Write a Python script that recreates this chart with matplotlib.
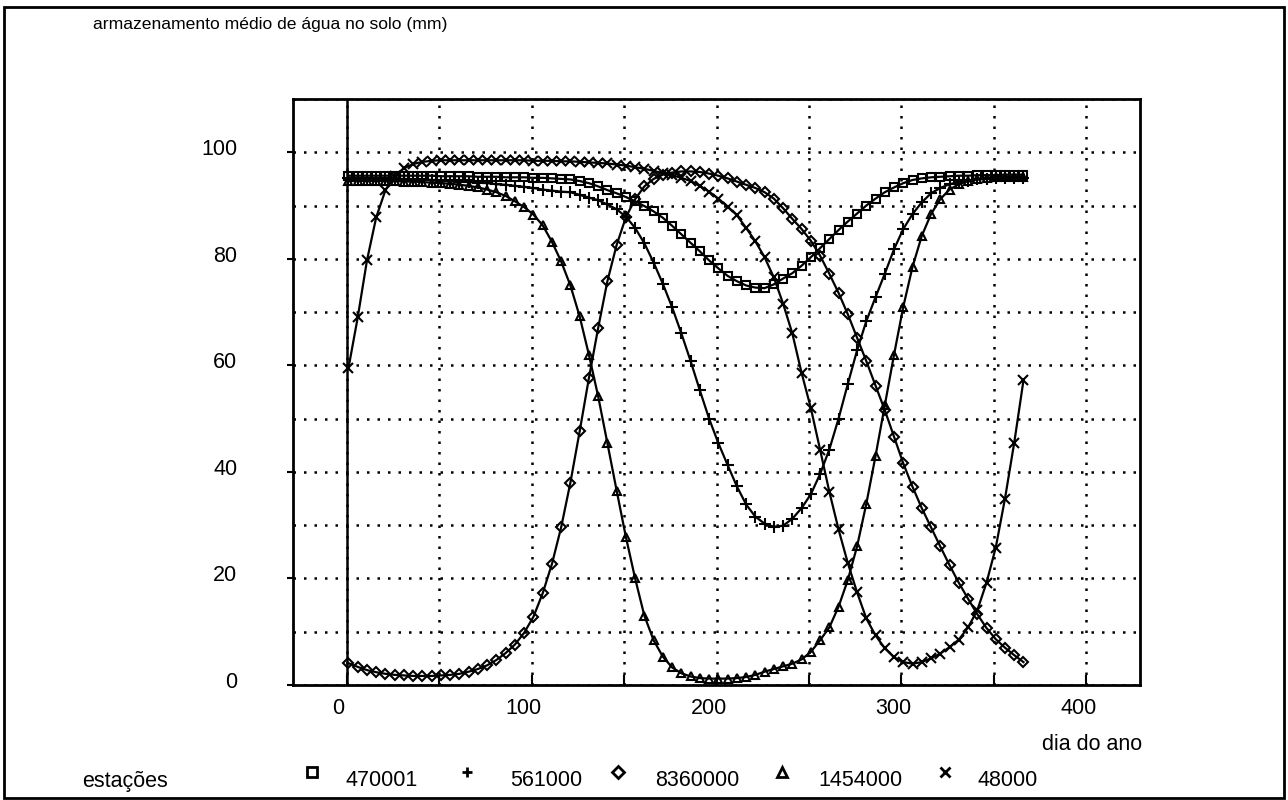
import numpy as np
import matplotlib.pyplot as plt
import matplotlib.transforms as mtransforms
from matplotlib.lines import Line2D
from matplotlib.patches import Rectangle

plt.rcParams['font.family'] = ['Liberation Sans', 'DejaVu Sans']

# day of year, one reading every 5 days
DAYS = np.arange(1, 367, 5)

# mean soil water storage (mm) per station
ST_470001 = [
    95.6, 95.6, 95.6, 95.6, 95.6, 95.6, 95.6, 95.6, 95.6, 95.6,
    95.5, 95.5, 95.5, 95.5, 95.4, 95.4, 95.4, 95.3, 95.3, 95.3,
    95.2, 95.2, 95.1, 95.0, 94.9, 94.6, 94.2, 93.6, 92.9, 92.3,
    91.6, 90.8, 89.9, 88.9, 87.7, 86.2, 84.6, 83.0, 81.4, 79.7,
    78.2, 76.8, 75.8, 75.0, 74.6, 74.5, 75.2, 76.3, 77.3, 78.7,
    80.3, 82.0, 83.7, 85.4, 87.0, 88.5, 90.0, 91.3, 92.5, 93.4,
    94.2, 94.8, 95.1, 95.3, 95.4, 95.5, 95.6, 95.6, 95.7, 95.7,
    95.7, 95.8, 95.8, 95.8,
]
ST_561000 = [
    95.2, 95.2, 95.2, 95.1, 95.1, 95.0, 95.0, 94.9, 94.9, 94.8,
    94.7, 94.6, 94.5, 94.4, 94.3, 94.2, 94.0, 93.9, 93.7, 93.5,
    93.3, 93.0, 92.8, 92.6, 92.5, 92.0, 91.5, 91.0, 90.2, 89.3,
    87.9, 85.8, 82.9, 79.3, 75.3, 70.9, 66.0, 60.8, 55.3, 50.0,
    45.4, 41.3, 37.3, 33.9, 31.6, 30.3, 29.7, 29.9, 31.2, 33.2,
    35.8, 39.6, 44.2, 50.0, 56.5, 62.8, 68.3, 72.8, 77.2, 81.8,
    85.6, 88.4, 90.6, 92.3, 93.3, 94.0, 94.4, 94.7, 94.9, 95.0,
    95.1, 95.1, 95.2, 95.2,
]
ST_8360000 = [
    4.1, 3.4, 2.8, 2.4, 2.1, 1.9, 1.8, 1.7, 1.7, 1.7,
    1.8, 1.9, 2.1, 2.5, 3.0, 3.7, 4.7, 6.0, 7.6, 9.8,
    12.8, 17.2, 22.7, 29.6, 38.0, 47.6, 57.6, 67.0, 75.8, 82.6,
    87.8, 91.2, 93.6, 95.0, 95.8, 96.2, 96.4, 96.4, 96.3, 96.0,
    95.6, 95.1, 94.5, 93.9, 93.3, 92.5, 91.3, 89.5, 87.5, 85.6,
    83.4, 80.6, 77.2, 73.6, 69.6, 65.2, 60.8, 56.2, 51.6, 46.6,
    41.6, 37.2, 33.2, 29.6, 26.0, 22.5, 19.2, 16.2, 13.3, 10.7,
    8.6, 7.0, 5.6, 4.3,
]
ST_1454000 = [
    94.6, 94.6, 94.6, 94.6, 94.6, 94.6, 94.5, 94.5, 94.4, 94.3,
    94.2, 94.1, 93.9, 93.7, 93.4, 93.0, 92.5, 91.8, 90.8, 89.7,
    88.3, 86.3, 83.2, 79.5, 75.0, 69.2, 62.0, 54.2, 45.4, 36.5,
    27.8, 20.0, 13.0, 8.4, 5.3, 3.3, 2.2, 1.6, 1.3, 1.2,
    1.2, 1.2, 1.3, 1.5, 1.9, 2.5, 3.0, 3.5, 4.0, 4.8,
    6.2, 8.4, 10.8, 14.7, 19.7, 26.0, 34.0, 43.0, 52.5, 62.0,
    71.0, 78.5, 84.3, 88.4, 91.2, 93.0, 94.0, 94.6, 95.0, 95.2,
    95.3, 95.4, 95.4, 95.4,
]
ST_48000 = [
    59.5, 69.0, 79.7, 87.8, 92.9, 95.6, 97.0, 97.8, 98.2, 98.4,
    98.5, 98.5, 98.5, 98.5, 98.5, 98.5, 98.5, 98.5, 98.5, 98.5,
    98.4, 98.4, 98.4, 98.3, 98.3, 98.2, 98.1, 98.0, 97.9, 97.7,
    97.5, 97.2, 96.9, 96.5, 96.1, 95.7, 95.2, 94.6, 93.7, 92.6,
    91.3, 89.8, 88.2, 85.8, 83.3, 80.3, 76.5, 71.6, 66.0, 58.6,
    52.0, 44.2, 36.3, 29.2, 22.9, 17.4, 12.5, 9.3, 6.9, 5.2,
    4.3, 4.0, 4.3, 5.0, 5.9, 7.1, 8.5, 10.8, 14.0, 19.2,
    25.8, 35.0, 45.5, 57.2,
]

STATIONS = ['470001', '561000', '8360000', '1454000', '48000']
SERIES = [ST_470001, ST_561000, ST_8360000, ST_1454000, ST_48000]
MARKERS = ['s', '+', 'D', '^', 'x']
SIZES = [6.3, 8.5, 5.2, 6.3, 7.0]

X_TICKS = [0, 100, 200, 300, 400]
Y_TICKS = [0, 20, 40, 60, 80, 100]

W, H = 1288, 800
fig = plt.figure(figsize=(W / 100, H / 100), dpi=100)
ax = fig.add_axes([293 / W, 1 - 685 / H, (1140 - 293) / W, (685 - 99) / H])

for vals, mk, ms in zip(SERIES, MARKERS, SIZES):
    ax.plot(DAYS, vals, color='black', lw=1.6, marker=mk, ms=ms,
            mfc='none', mec='black', mew=1.5, zorder=3)

ax.axvline(0, color='black', lw=1.8, zorder=2)

ax.set_xlim(-29, 429)
ax.set_ylim(0, 110)
ax.set_xticks(X_TICKS)
ax.set_xticks(np.arange(50, 401, 100), minor=True)
ax.set_yticks(Y_TICKS)
ax.set_yticks(np.arange(10, 111, 20), minor=True)

dots = dict(color='black', linestyle=(0, (1, 3.2)), linewidth=1.8)
ax.grid(True, which='both', **dots)
ax.set_axisbelow(True)

ax.tick_params(axis='x', which='both', direction='in', length=7, width=1.5,
               labelsize=15.5, pad=12)
ax.tick_params(axis='y', which='major', direction='out', length=4, width=1.5,
               labelsize=15.5, pad=36)
ax.tick_params(axis='y', which='minor', length=0)

off = mtransforms.ScaledTranslation(-0.08, 0.04, fig.dpi_scale_trans)
for lbl in ax.get_xticklabels():
    lbl.set_transform(lbl.get_transform() + off)
up = mtransforms.ScaledTranslation(0, 0.05, fig.dpi_scale_trans)
for lbl in ax.get_yticklabels():
    lbl.set_transform(lbl.get_transform() + up)

for side in ['left', 'bottom', 'right', 'top']:
    ax.spines[side].set_linewidth(2)

fig.text(93 / W, 1 - 24 / H, 'armazenamento médio de água no solo (mm)',
         ha='left', va='center', fontsize=12.6)
fig.text(1142 / W, 1 - 745 / H, 'dia do ano', ha='right', va='center',
         fontsize=15.5)

# station key along the bottom
fig.text(82 / W, 1 - 781 / H, 'estações', ha='left', va='center', fontsize=15.5)
key_marker_x = [312, 467, 618, 782, 945]
key_text_x = [345, 510, 655, 818, 978]
for name, mk, mx, tx in zip(STATIONS, MARKERS, key_marker_x, key_text_x):
    fig.add_artist(Line2D([mx / W], [1 - 772 / H], transform=fig.transFigure,
                          marker=mk, ms=6.5, mfc='none', mec='black', mew=2,
                          ls='none'))
    fig.text(tx / W, 1 - 781 / H, name, ha='left', va='center', fontsize=15.5)

# frame around the whole figure
fig.add_artist(Rectangle((4 / W, 2 / H), 1 - 8 / W, 1 - 9 / H,
                         transform=fig.transFigure, fill=False,
                         edgecolor='black', lw=2))

fig.savefig('out.png', dpi=100)
